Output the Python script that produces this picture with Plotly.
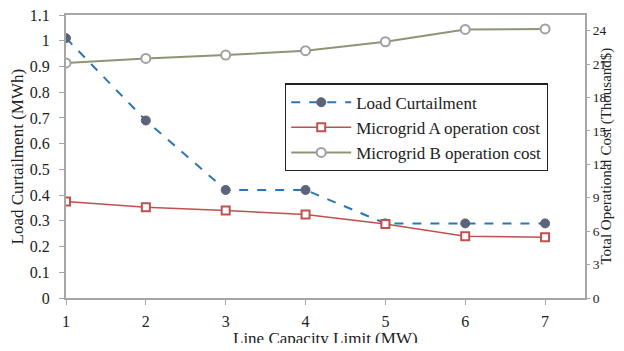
import plotly.graph_objects as go

x_limits = [1, 2, 3, 4, 5, 6, 7]
load_curtailment = [1.01, 0.69, 0.42, 0.42, 0.29, 0.29, 0.29]
mg_a_cost = [8.65, 8.15, 7.85, 7.5, 6.65, 5.55, 5.45]
mg_b_cost = [21.1, 21.5, 21.8, 22.2, 23.0, 24.1, 24.15]

left_ticks = [0, 0.1, 0.2, 0.3, 0.4, 0.5, 0.6, 0.7, 0.8, 0.9, 1, 1.1]
left_labels = ["0", "0.1", "0.2", "0.3", "0.4", "0.5", "0.6", "0.7", "0.8", "0.9", "1", "1.1"]
right_ticks = [0, 3, 6, 9, 12, 15, 18, 21, 24]
x_ticks = [1, 2, 3, 4, 5, 6, 7]

x_title = "Line Capacity Limit (MW)"
left_title = "Load Curtailment (MWh)"
right_title = "Total Operational Cost (Thousand$)"

FONT = "Liberation Serif"
AXIS_GRAY = "#a6a6a6"
TEXT = "#222222"

fig = go.Figure()
fig.add_trace(go.Scatter(
    x=x_limits, y=load_curtailment, name="Load Curtailment", mode="lines+markers",
    line=dict(color="#2e75b6", width=2, dash="dash"),
    marker=dict(symbol="circle", size=9, color="#5b6478", line=dict(color="#5b6478", width=1)),
    yaxis="y"))
fig.add_trace(go.Scatter(
    x=x_limits, y=mg_a_cost, name="Microgrid A operation cost", mode="lines+markers",
    line=dict(color="#c0504d", width=1.5),
    marker=dict(symbol="square", size=8, color="white", line=dict(color="#c0504d", width=2)),
    yaxis="y2"))
fig.add_trace(go.Scatter(
    x=x_limits, y=mg_b_cost, name="Microgrid B operation cost", mode="lines+markers",
    line=dict(color="#8c9677", width=2),
    marker=dict(symbol="circle", size=9, color="white", line=dict(color="#a0a0a0", width=2)),
    yaxis="y2"))

fig.update_layout(
    width=608, height=335,
    margin=dict(l=58, r=31, t=7, b=45, autoexpand=False),
    paper_bgcolor="white", plot_bgcolor="white",
    font=dict(family=FONT, size=16, color=TEXT),
    showlegend=True,
    legend=dict(x=0.422, y=0.758, xanchor="left", yanchor="top",
                bgcolor="white", bordercolor=TEXT, borderwidth=1.2,
                font=dict(family=FONT, size=17, color=TEXT),
                tracegroupgap=0, itemwidth=60),
    xaxis=dict(range=[1, 7.5], tickvals=x_ticks, showgrid=False, zeroline=False,
               showline=True, linecolor=AXIS_GRAY, linewidth=2, mirror=True,
               ticks="outside", ticklen=5, tickcolor=AXIS_GRAY, automargin=False,
               ticklabelstandoff=3, ticklabeloverflow="allow",
               tickfont=dict(size=16)),
    yaxis=dict(range=[0, 1.1], tickvals=left_ticks, ticktext=left_labels, showgrid=False,
               zeroline=False, showline=True, linecolor=AXIS_GRAY, linewidth=2,
               ticks="outside", ticklen=5, tickcolor=AXIS_GRAY, automargin=False,
               ticklabelstandoff=6, ticklabeloverflow="allow",
               tickfont=dict(size=16)),
    yaxis2=dict(range=[0, 25.4], tickvals=right_ticks, overlaying="y", side="right",
                showgrid=False, zeroline=False, showline=True, linecolor=AXIS_GRAY, linewidth=2,
                ticks="outside", ticklen=3, tickcolor=AXIS_GRAY, automargin=False,
                ticklabelstandoff=0, ticklabeloverflow="allow",
                tickfont=dict(size=13.5)),
    annotations=[
        dict(text=x_title, xref="paper", yref="paper", x=0.5, y=-0.142,
             showarrow=False, xanchor="center", yanchor="middle",
             font=dict(family=FONT, size=17, color=TEXT)),
        dict(text=left_title, xref="paper", yref="paper", x=-0.0944, y=0.5,
             textangle=-90, showarrow=False, xanchor="center", yanchor="middle",
             font=dict(family=FONT, size=17, color=TEXT)),
        dict(text=right_title, xref="paper", yref="paper", x=1.0405, y=0.5,
             textangle=-90, showarrow=False, xanchor="center", yanchor="middle",
             font=dict(family=FONT, size=15, color=TEXT)),
    ],
)

fig.write_html("out.html")
